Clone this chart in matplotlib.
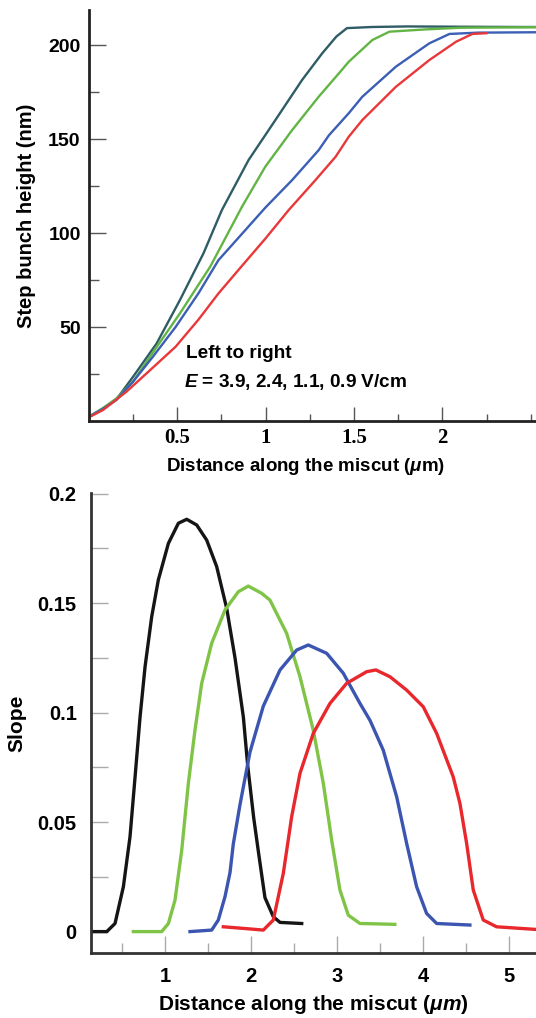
import matplotlib
matplotlib.use("Agg")
import matplotlib.pyplot as plt
from matplotlib.ticker import MultipleLocator

plt.rcParams['font.family'] = ['Liberation Sans', 'DejaVu Sans']
plt.rcParams['font.weight'] = 'bold'
plt.rcParams['mathtext.fontset'] = 'custom'
plt.rcParams['mathtext.rm'] = 'Liberation Sans:bold'
plt.rcParams['mathtext.it'] = 'Liberation Sans:italic:bold'
plt.rcParams['mathtext.bf'] = 'Liberation Sans:bold'

# ---------- top panel data: step bunch height (nm) vs distance (um) ----------
teal_x = [0.0, 0.08, 0.155, 0.25, 0.383, 0.515, 0.648, 0.752, 0.903, 1.055, 1.206, 1.32, 1.40, 1.46,
          1.6, 1.8, 2.0, 2.2, 2.45, 2.53]
teal_y = [2.3, 6.5, 11.5, 23.6, 41.3, 64.4, 89.2, 112.2, 138.8, 160.1, 181.4, 195.6, 204.5, 209.0,
          209.6, 209.9, 209.8, 209.7, 209.6, 209.6]

green_x = [0.0, 0.08, 0.155, 0.25, 0.345, 0.515, 0.686, 0.866, 0.998, 1.15, 1.30, 1.415, 1.47, 1.604,
           1.70, 1.9, 2.1, 2.53]
green_y = [2.3, 7.0, 12.0, 21.0, 34.2, 57.3, 82.1, 114.0, 135.3, 154.8, 172.5, 185.0, 191.1, 202.7,
           207.1, 208.3, 209.2, 209.5]

blue_x = [0.0, 0.08, 0.155, 0.25, 0.36, 0.49, 0.62, 0.733, 0.87, 0.998, 1.15, 1.30, 1.358, 1.47, 1.547,
          1.737, 1.926, 2.04, 2.2, 2.53]
blue_y = [2.3, 6.5, 11.2, 21.0, 34.0, 50.0, 68.0, 85.6, 100.0, 113.5, 128.2, 144.1, 152.0, 163.7, 172.5,
          188.5, 200.9, 205.9, 206.6, 206.8]

red_x = [0.0, 0.08, 0.212, 0.345, 0.49, 0.62, 0.733, 0.87, 0.998, 1.13, 1.282, 1.396, 1.47, 1.547,
         1.737, 1.926, 2.078, 2.17, 2.25]
red_y = [2.0, 5.9, 15.6, 27.0, 39.5, 54.0, 67.9, 83.0, 97.0, 112.2, 128.2, 140.6, 151.2, 160.1,
         177.8, 192.0, 201.8, 205.9, 206.3]

top_xticks = [0.5, 1, 1.5, 2]
top_xticklabels = ['0.5', '1', '1.5', '2']
top_yticks = [50, 100, 150, 200]

# ---------- bottom panel data: slope vs distance (um) ----------
black_x = [0.149, 0.323, 0.419, 0.516, 0.593, 0.652, 0.71, 0.768, 0.845, 0.922, 1.039, 1.155, 1.252,
           1.368, 1.484, 1.6, 1.717, 1.813, 1.91, 1.96, 2.03, 2.09, 2.161, 2.258, 2.336, 2.588]
black_y = [0.0, 0.0, 0.0037, 0.0205, 0.0433, 0.0707, 0.0981, 0.121, 0.1438, 0.1606, 0.1773, 0.1865, 0.1883,
           0.1857, 0.1788, 0.1667, 0.1475, 0.125, 0.098, 0.076, 0.052, 0.035, 0.0155, 0.0068, 0.0042, 0.0037]

green2_x = [0.632, 0.961, 1.039, 1.116, 1.194, 1.271, 1.348, 1.426, 1.542, 1.697, 1.851, 1.967, 2.123,
            2.219, 2.413, 2.568, 2.722, 2.839, 2.936, 3.032, 3.129, 3.265, 3.497, 3.67]
green2_y = [0.0, 0.0, 0.0037, 0.0144, 0.0372, 0.0677, 0.092, 0.1134, 0.1317, 0.1469, 0.1552, 0.1578, 0.1545,
            0.1514, 0.1362, 0.1164, 0.092, 0.0677, 0.0418, 0.019, 0.0075, 0.0037, 0.0035, 0.0033]

blue2_x = [1.29, 1.542, 1.619, 1.697, 1.755, 1.793, 1.871, 1.987, 2.142, 2.336, 2.53, 2.664, 2.878, 3.071,
           3.265, 3.381, 3.535, 3.691, 3.807, 3.923, 4.039, 4.156, 4.542]
blue2_y = [0.0, 0.0007, 0.0053, 0.016, 0.027, 0.04, 0.058, 0.082, 0.103, 0.1195, 0.1286, 0.1309, 0.1271, 0.118,
           0.1042, 0.0965, 0.0829, 0.0616, 0.0403, 0.0205, 0.0083, 0.0037, 0.003]

red2_x = [1.677, 1.9, 2.142, 2.258, 2.374, 2.471, 2.568, 2.722, 2.916, 3.11, 3.343, 3.45, 3.613, 3.807,
          4.0, 4.156, 4.348, 4.426, 4.504, 4.581, 4.697, 4.852, 5.31]
red2_y = [0.0022, 0.0015, 0.0007, 0.0053, 0.0266, 0.0524, 0.0723, 0.0905, 0.1042, 0.1134, 0.1187, 0.1195,
          0.1164, 0.1103, 0.1027, 0.0905, 0.0707, 0.0586, 0.0403, 0.019, 0.0053, 0.0022, 0.001]

bot_xticks = [1, 2, 3, 4, 5]
bot_yticks = [0, 0.05, 0.1, 0.15, 0.2]
bot_yticklabels = ['0', '0.05', '0.1', '0.15', '0.2']

fig = plt.figure(figsize=(5.36, 10.18), dpi=100)

# ---------------- top axes ----------------
ax1 = fig.add_axes([0.166, 0.5864, 0.834, 0.4037])
ax1.plot(teal_x, teal_y, color='#2f5d66', lw=1.7, solid_joinstyle='round')
ax1.plot(green_x, green_y, color='#62b545', lw=1.7, solid_joinstyle='round')
ax1.plot(blue_x, blue_y, color='#3a5fb5', lw=1.7, solid_joinstyle='round')
ax1.plot(red_x, red_y, color='#e8383a', lw=1.7, solid_joinstyle='round')
ax1.set_xlim(0, 2.53)
ax1.set_ylim(0, 218.6)
ax1.set_xticks(top_xticks)
ax1.set_xticklabels(top_xticklabels, fontfamily='Liberation Serif', fontweight='bold', fontsize=15)
ax1.xaxis.set_minor_locator(MultipleLocator(0.25))
ax1.set_yticks(top_yticks)
ax1.yaxis.set_minor_locator(MultipleLocator(25))
for lab in ax1.get_yticklabels():
    lab.set_fontsize(14)
    lab.set_fontweight('bold')
ax1.tick_params(axis='both', which='major', direction='in', color='#555555', width=1.0)
ax1.tick_params(axis='y', which='major', length=12, pad=6)
ax1.tick_params(axis='x', which='major', length=10, pad=5)
ax1.tick_params(axis='y', which='minor', direction='in', length=7, color='#555555', width=1.0)
ax1.tick_params(axis='x', which='minor', direction='in', length=5, color='#555555', width=1.0)
for s in ['top', 'right']:
    ax1.spines[s].set_visible(False)
for s in ['left', 'bottom']:
    ax1.spines[s].set_linewidth(2.0)
    ax1.spines[s].set_color('#222222')
ax1.set_ylabel('Step bunch height (nm)', fontsize=14.5, fontweight='bold', labelpad=9)
ax1.set_xlabel('Distance along the miscut ($\\mu$m)', fontsize=13.5, fontweight='bold', labelpad=5)
ax1.xaxis.set_label_coords(0.484, -0.085)
ax1.text(0.55, 36, 'Left to right', fontsize=13.7, fontweight='bold', va='center', ha='left')
ax1.text(0.535, 21, '$E$ = 3.9, 2.4, 1.1, 0.9 V/cm', fontsize=13.7, fontweight='bold', va='center', ha='left')

# ---------------- bottom axes ----------------
ax2 = fig.add_axes([0.169, 0.064, 0.831, 0.4517])
ax2.plot(black_x, black_y, color='#151515', lw=2.4, solid_joinstyle='round')
ax2.plot(green2_x, green2_y, color='#80c447', lw=2.4, solid_joinstyle='round')
ax2.plot(blue2_x, blue2_y, color='#3b55b0', lw=2.4, solid_joinstyle='round')
ax2.plot(red2_x, red2_y, color='#e8282c', lw=2.4, solid_joinstyle='round')
ax2.set_xlim(0.135, 5.31)
ax2.set_ylim(-0.0097, 0.2003)
ax2.set_xticks(bot_xticks)
ax2.xaxis.set_minor_locator(MultipleLocator(0.5))
ax2.set_yticks(bot_yticks)
ax2.set_yticklabels(bot_yticklabels)
ax2.yaxis.set_minor_locator(MultipleLocator(0.025))
for lab in ax2.get_xticklabels() + ax2.get_yticklabels():
    lab.set_fontsize(14.5)
    lab.set_fontweight('bold')
ax2.tick_params(axis='both', which='both', direction='in', color='#aaaaaa', width=1.0)
ax2.tick_params(axis='y', which='both', length=12, pad=10)
ax2.tick_params(axis='x', which='major', length=12, pad=10)
ax2.tick_params(axis='x', which='minor', length=7)
for s in ['top', 'right']:
    ax2.spines[s].set_visible(False)
for s in ['left', 'bottom']:
    ax2.spines[s].set_linewidth(2.0)
    ax2.spines[s].set_color('#333333')
ax2.set_ylabel('Slope', fontsize=15, fontweight='bold', labelpad=8)
ax2.set_xlabel('Distance along the miscut $(\\mu m)$', fontsize=15, fontweight='bold', labelpad=5)

fig.savefig('out.png', dpi=100)
